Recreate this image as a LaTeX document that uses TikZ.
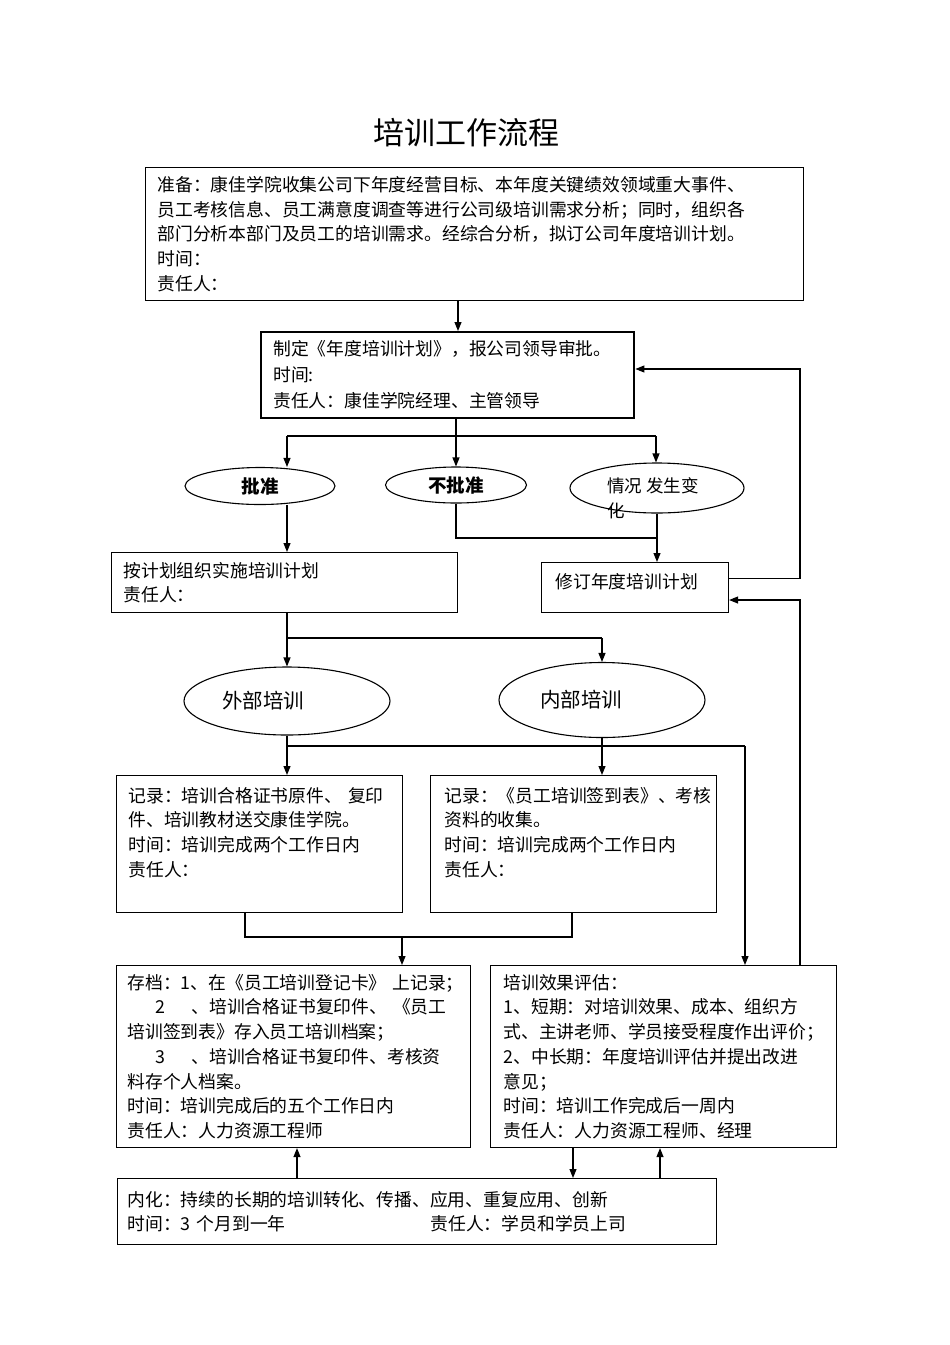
\documentclass[tikz,border=0pt]{standalone}
\usepackage{fontspec}
\usetikzlibrary{shapes.geometric,arrows.meta}
\newfontfamily\cjk{Noto Sans CJK SC}

\begin{document}
\begin{tikzpicture}[x=1pt,y=-1pt,
    box/.style={draw,line width=1.1pt,anchor=north west,align=left,
      inner xsep=12pt,inner ysep=0pt,font=\cjk\fontsize{17.8}{24.7}\selectfont},
    oval/.style={draw,line width=1.1pt,ellipse,inner sep=0pt},
    conn/.style={line width=1.1pt},
    arr/.style={line width=1.1pt,-{Triangle[length=9pt,width=7pt]}}]
    \useasboundingbox (0,0) rectangle (950,1345);

    \node (title) at (466,133) {\cjk\fontsize{31}{31}\selectfont 培训工作流程};

    % boxes
    \node[box,text width=634pt,minimum height=133pt] (prep) at (145,167)
      {准备：康佳学院收集公司下年度经营目标、本年度关键绩效领域重大事件、\\
       员工考核信息、员工满意度调查等进行公司级培训需求分析；同时，组织各\\
       部门分析本部门及员工的培训需求。经综合分析，拟订公司年度培训计划。\\
       时间：\\
       责任人：};
    \node[box,line width=2.4pt,text width=349pt,minimum height=86pt,
      font=\cjk\fontsize{17.8}{26}\selectfont] (plan) at (260,331)
      {制定《年度培训计划》，报公司领导审批。\\
       时间:\\
       责任人：康佳学院经理、主管领导};
    \node[box,text width=322pt,minimum height=60pt] (impl) at (111,552)
      {按计划组织实施培训计划\\
       责任人：};
    \node[box,inner xsep=14pt,text width=159pt,minimum height=50pt] (rev) at (541,562)
      {修订年度培训计划\\[-11pt]~};
    \node[box,text width=262pt,minimum height=137pt] (rec1) at (116,775)
      {记录：培训合格证书原件、~复印\\
       件、培训教材送交康佳学院。\\
       时间：培训完成两个工作日内\\
       责任人：\\
       ~};
    \node[box,inner xsep=14pt,text width=258pt,minimum height=137pt] (rec2) at (430,775)
      {记录：《员工培训签到表》、考核\\
       资料的收集。\\
       时间：培训完成两个工作日内\\
       责任人：\\
       ~};
    \node[box,inner xsep=11pt,text width=332pt,minimum height=182pt] (arch) at (116,965)
      {存档：1、在《员工培训登记卡》~上记录；\\
       \hspace*{28pt}2\hspace{26pt}、培训合格证书复印件、~《员工\\
       培训签到表》存入员工培训档案；\\
       \hspace*{28pt}3\hspace{26pt}、培训合格证书复印件、考核资\\
       料存个人档案。\\
       时间：培训完成后的五个工作日内\\
       责任人：人力资源工程师};
    \node[box,inner xsep=13pt,text width=320pt,minimum height=182pt] (eval) at (490,965)
      {培训效果评估：\\
       1、短期：对培训效果、成本、组织方\\
       式、主讲老师、学员接受程度作出评价；\\
       2、中长期：年度培训评估并提出改进\\
       意见；\\
       时间：培训工作完成后一周内\\
       责任人：人力资源工程师、经理};
    \node[box,inner xsep=10pt,text width=579pt,minimum height=66pt] (intz) at (117,1178)
      {内化：持续的长期的培训转化、传播、应用、重复应用、创新\\
       \makebox[303pt][l]{时间：3~个月到一年}责任人：学员和学员上司};

    % ovals
    \node[oval,minimum width=150pt,minimum height=37pt,
      font=\cjk\bfseries\fontsize{18.5}{20}\selectfont] (ok) at (260,486) {批准};
    \node[oval,minimum width=141pt,minimum height=36pt,
      font=\cjk\bfseries\fontsize{18.5}{20}\selectfont] (no) at (456,485) {不批准};
    \node[oval,minimum width=174pt,minimum height=50pt] (chg) at (657,488) {};
    \node[anchor=north west,inner sep=0pt,align=left,
      font=\cjk\fontsize{17.5}{25}\selectfont] (chgt) at (607,477) {情况~发生变\\化};
    \node[oval,minimum width=206pt,minimum height=68pt] (ext) at (287,701) {};
    \node[anchor=west,inner sep=0pt,font=\cjk\fontsize{20.5}{22}\selectfont] (extt) at (222,701) {外部培训};
    \node[oval,minimum width=206pt,minimum height=75pt] (int) at (602,700) {};
    \node[anchor=west,inner sep=0pt,font=\cjk\fontsize{20.5}{22}\selectfont] (intt) at (540,700) {内部培训};

    % junctions
    \coordinate (a1) at (458,315);
    \coordinate (b0) at (456,436);
    \coordinate (bl) at (287,436);
    \coordinate (br) at (656,436);
    \coordinate (nj) at (657,538);
    \coordinate (f1) at (800,369);
    \coordinate (f2) at (800,600);
    \coordinate (s1) at (287,638);
    \coordinate (s2) at (602,638);
    \coordinate (e1) at (287,746);
    \coordinate (e2) at (745,746);
    \coordinate (m0) at (402,937);
    \coordinate (m1) at (245,937);
    \coordinate (m2) at (572,937);
    \coordinate (u1) at (297,1160);
    \coordinate (u2) at (573,1160);
    \coordinate (u3) at (660,1160);

    % connectors
    \draw[arr] (prep.south -| a1) -- (plan.north -| a1);
    \draw[arr] (plan.south -| b0) -- (no.north);
    \draw[conn] (bl) -- (br);
    \draw[arr] (bl) -- (bl |- ok.north);
    \draw[arr] (br) -- (br |- chg.north);
    \draw[arr] (bl |- ok.south) -- (bl |- impl.north);
    \draw[conn] (no.south) |- (nj);
    \draw[arr] (chg.south) -- (chg.south |- rev.north);
    \draw[arr] ([yshift=9pt]rev.east) -| (f1) -- (f1 -| plan.east);
    \draw[arr] (eval.north -| f2) -- (f2) -- (f2 -| rev.east);
    \draw[conn] (impl.south -| s1) -- (s1) -- (s2);
    \draw[arr] (s1) -- (ext.north);
    \draw[arr] (s2) -- (int.north);
    \draw[conn] (ext.south) -- (e1) -- (e2);
    \draw[arr] (e1) -- (e1 |- rec1.north);
    \draw[arr] (e2) -- (e2 |- eval.north);
    \draw[arr] (int.south) -- (int.south |- rec2.north);
    \draw[conn] (rec1.south -| m1) |- (m2) -- (rec2.south -| m2);
    \draw[arr] (m0) -- (m0 |- arch.north);
    \draw[arr] (intz.north -| u1) -- (arch.south -| u1);
    \draw[arr] (eval.south -| u2) -- (intz.north -| u2);
    \draw[arr] (intz.north -| u3) -- (eval.south -| u3);
\end{tikzpicture}
\end{document}
